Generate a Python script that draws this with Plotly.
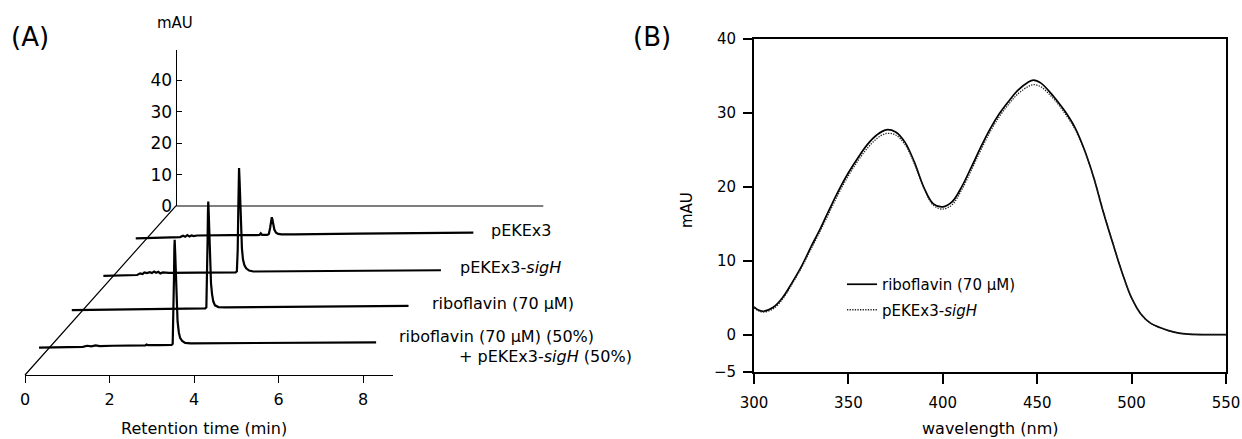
import plotly.graph_objects as go

W, H = 1242, 439
FONT = "DejaVu Sans"

# ---------------- Panel A data: chromatograms (time in min, signal in mAU) ----------------
names_a = ["pEKEx3", "pEKEx3-<i>sigH</i>", "riboflavin (70 µM)", "riboflavin (70 µM) (50%)"]
depths_a = [0.805, 0.59, 0.375, 0.16]          # position along the depth (3rd) axis, 0=front, 1=back

t_pekex3 = [-0.25, 0.3, 0.8, 0.87, 0.92, 0.97, 1.02, 1.07, 1.12, 1.2, 1.5, 2.0, 2.6, 2.68, 2.71, 2.74,
            2.86, 2.9, 2.93, 2.955, 2.97, 2.985, 3.0, 3.03, 3.07, 3.12, 3.2, 3.5, 5.0, 7.74]
v_pekex3 = [0.2, 0.4, 0.6, 1.0, 0.7, 1.2, 0.8, 1.1, 0.9, 1.1, 1.2, 1.2, 1.25, 1.3, 1.8, 1.3,
            1.3, 1.6, 3.5, 6.0, 6.9, 6.2, 4.8, 3.0, 2.0, 1.6, 1.45, 1.45, 1.7, 2.0]

t_sigh = [-0.25, 0.3, 0.55, 0.62, 0.68, 0.72, 0.78, 0.85, 0.9, 0.95, 1.0, 1.05, 1.1, 1.16, 1.3, 2.0,
          2.88, 2.91, 2.93, 2.945, 2.955, 2.962, 2.975, 2.99, 3.01, 3.03, 3.055, 3.09, 3.13, 3.2, 3.3, 5.0, 7.74]
v_sigh = [-0.2, 0.0, 0.1, 0.6, 0.4, 0.9, 0.7, 1.0, 0.7, 1.2, 0.8, 1.1, 0.6, 0.9, 0.8, 0.85,
          0.9, 1.3, 8.0, 22.0, 31.0, 34.1, 30.0, 22.0, 14.0, 8.5, 5.0, 3.2, 2.2, 1.5, 1.2, 1.35, 1.6]

t_ribo = [-0.23, 1.0, 2.0, 2.93, 2.955, 2.97, 2.983, 2.993, 3.0, 3.012, 3.028, 3.045, 3.065, 3.09,
          3.12, 3.16, 3.24, 3.4, 5.0, 7.74]
v_ribo = [0.5, 0.8, 1.0, 1.05, 1.4, 9.0, 22.0, 32.0, 35.0, 31.0, 23.0, 15.0, 9.0, 5.5,
          3.2, 2.0, 1.45, 1.35, 1.55, 1.8]

t_mix = [-0.24, 0.3, 0.8, 0.9, 1.0, 1.1, 1.2, 1.5, 2.0, 2.28, 2.31, 2.34, 2.6, 2.9, 2.925, 2.94,
         2.955, 2.965, 2.972, 2.985, 3.0, 3.02, 3.04, 3.07, 3.1, 3.15, 3.22, 3.35, 4.5, 6.0, 7.74]
v_mix = [0.1, 0.2, 0.35, 0.7, 0.5, 0.8, 0.6, 0.7, 0.8, 0.85, 1.1, 0.9, 0.9, 0.95, 1.3, 8.0,
         22.0, 32.0, 34.4, 30.0, 22.0, 14.0, 8.5, 5.0, 3.2, 2.2, 1.6, 1.45, 1.55, 1.65, 1.8]

times_a = [t_pekex3, t_sigh, t_ribo, t_mix]
values_a = [v_pekex3, v_sigh, v_ribo, v_mix]

time_ticks = [0, 2, 4, 6, 8]
mau_ticks = [0, 10, 20, 30, 40]
TIME_MAX = 8.7
MAU_MAX = 49.65

# ---------------- Panel B data: UV spectra ----------------
wl_ribo = [300, 302, 305, 310, 315, 320, 325, 330, 335, 340, 345, 350, 355, 360, 365, 370, 375, 380,
           385, 390, 395, 400, 405, 410, 415, 420, 425, 430, 435, 440, 445, 448, 452, 456, 460, 465,
           470, 475, 480, 485, 490, 495, 500, 505, 510, 515, 520, 525, 530, 540, 550]
ab_ribo = [3.8, 3.4, 3.2, 3.7, 5.0, 7.0, 9.2, 11.8, 14.3, 17.0, 19.6, 21.9, 23.9, 25.7, 27.0, 27.7, 27.4, 26.0,
           23.3, 19.9, 17.7, 17.3, 18.0, 20.0, 22.6, 25.3, 27.8, 29.9, 31.6, 33.1, 34.1, 34.4, 34.0, 33.0, 31.8, 30.1,
           28.0, 25.0, 21.2, 16.6, 12.4, 8.4, 5.0, 2.8, 1.6, 1.0, 0.55, 0.25, 0.12, 0.05, 0.05]
wl_sigh = [300, 302, 305, 310, 315, 320, 325, 330, 335, 340, 345, 350, 355, 360, 365, 370, 375, 380,
           385, 390, 395, 400, 405, 410, 415, 420, 425, 430, 435, 440, 445, 448, 452, 456, 460, 465,
           470, 475, 480, 485, 490, 495, 500, 505, 510, 515, 520, 525, 530, 540, 550]
ab_sigh = [3.7, 3.3, 3.1, 3.5, 4.8, 6.8, 9.0, 11.5, 14.0, 16.6, 19.2, 21.5, 23.5, 25.2, 26.5, 27.2, 27.0, 25.7,
           23.1, 19.8, 17.5, 17.0, 17.6, 19.6, 22.2, 24.9, 27.4, 29.5, 31.2, 32.6, 33.5, 33.8, 33.5, 32.6, 31.5, 29.8,
           27.8, 24.9, 21.2, 16.7, 12.5, 8.4, 5.0, 2.8, 1.6, 1.0, 0.55, 0.25, 0.12, 0.05, 0.05]
wl_ticks = [300, 350, 400, 450, 500, 550]
mau_ticks_b = [-5, 0, 10, 20, 30, 40]

# ---------------- pixel geometry of panel A (oblique projection) ----------------
PX_PER_MIN = 42.25
PX_PER_MAU = 3.1425
ORIGIN_X, ORIGIN_Y = 25.0, 375.0          # front origin (pixels)
BACK_DX_PX, BACK_DY_PX = 150.7, 169.0     # shift of the back plane
DX = BACK_DX_PX / PX_PER_MIN              # in minutes
DY = BACK_DY_PX / PX_PER_MAU              # in mAU


def fx(px):
    return px / W


def fy(py):
    return 1 - py / H


def project(ts, vs, d):
    return [t + DX * d for t in ts], [v + DY * d for v in vs]


X_MIN, X_MAX = -0.3, 14.5
Y_MIN = -3.0
Y_TOP_PX = 30.0
Y_MAX = (ORIGIN_Y - Y_TOP_PX) / PX_PER_MAU
xdom = [fx(ORIGIN_X + X_MIN * PX_PER_MIN), fx(ORIGIN_X + X_MAX * PX_PER_MIN)]
ydom = [fy(ORIGIN_Y - Y_MIN * PX_PER_MAU), fy(Y_TOP_PX)]

fig = go.Figure()

# frame of panel A: diagonal depth axis and back baseline
fig.add_trace(go.Scatter(x=[0, DX, DX + TIME_MAX], y=[0, DY, DY], mode="lines",
                         line=dict(color="black", width=1.2), showlegend=False,
                         hoverinfo="skip", xaxis="x", yaxis="y"))

ends = []
for name, ts, vs, d in zip(names_a, times_a, values_a, depths_a):
    X, Y = project(ts, vs, d)
    ends.append((X[-1], Y[-1]))
    fig.add_trace(go.Scatter(x=X, y=Y, mode="lines", line=dict(color="black", width=2.2),
                             name=name, showlegend=False, xaxis="x", yaxis="y"))

# dummy traces so that the front time axis and back mAU axis are drawn
fig.add_trace(go.Scatter(x=[0, TIME_MAX], y=[None, None], xaxis="x2", yaxis="y",
                         showlegend=False, hoverinfo="skip"))
fig.add_trace(go.Scatter(x=[None, None], y=[0, MAU_MAX], xaxis="x", yaxis="y2",
                         showlegend=False, hoverinfo="skip"))

# panel B
fig.add_trace(go.Scatter(x=wl_ribo, y=ab_ribo, mode="lines", name="riboflavin (70 µM)",
                         line=dict(color="black", width=1.7, shape="spline", smoothing=1.0),
                         xaxis="x3", yaxis="y3", legendgroup="a"))
fig.add_trace(go.Scatter(x=wl_sigh, y=ab_sigh, mode="lines", name="pEKEx3-<i>sigH</i>",
                         line=dict(color="#222222", width=1.3, dash="1.3px,1.3px", shape="spline",
                                   smoothing=1.0),
                         xaxis="x3", yaxis="y3", legendgroup="b"))

tickfont = dict(family=FONT, size=15, color="black")
axis_common = dict(showgrid=False, zeroline=False, automargin=False)

layout = dict(
    width=W, height=H, margin=dict(l=0, r=0, t=0, b=0),
    paper_bgcolor="white", plot_bgcolor="rgba(0,0,0,0)",
    font=dict(family=FONT, size=16, color="black"),
    showlegend=True,
    xaxis=dict(domain=xdom, range=[X_MIN, X_MAX], visible=False, anchor="y", **axis_common),
    yaxis=dict(domain=ydom, range=[Y_MIN, Y_MAX], visible=False, anchor="x", **axis_common),
    xaxis2=dict(domain=[fx(ORIGIN_X), fx(ORIGIN_X + TIME_MAX * PX_PER_MIN)], range=[0, TIME_MAX],
                anchor="free", position=fy(ORIGIN_Y), showline=True, linecolor="black", linewidth=1.3,
                ticks="outside", ticklen=7, tickwidth=1.3, tickcolor="black", tickvals=time_ticks,
                tickfont=dict(family=FONT, size=16), ticklabelstandoff=3, **axis_common),
    yaxis2=dict(domain=[fy(ORIGIN_Y - BACK_DY_PX), fy(ORIGIN_Y - BACK_DY_PX - MAU_MAX * PX_PER_MAU)],
                range=[0, MAU_MAX], anchor="free", position=fx(ORIGIN_X + BACK_DX_PX), side="left",
                showline=True, linecolor="black", linewidth=1.3, ticks="inside", ticklen=5,
                tickwidth=1.3, tickcolor="black", tickvals=mau_ticks, tickfont=dict(family=FONT, size=17),
                **axis_common),
    xaxis3=dict(domain=[fx(754), fx(1226)], range=[300, 550], anchor="y3", showline=True, mirror=True,
                linecolor="black", linewidth=1.7, ticks="outside", ticklen=10, tickwidth=1.5,
                tickcolor="black", tickvals=wl_ticks, tickfont=tickfont, ticklabelstandoff=6, **axis_common),
    yaxis3=dict(domain=[fy(372), fy(38.7)], range=[-5, 40], anchor="x3", showline=True, mirror=True,
                linecolor="black", linewidth=1.7, ticks="outside", ticklen=9, tickwidth=1.5,
                tickcolor="black", tickvals=mau_ticks_b, tickfont=tickfont, ticklabelstandoff=4,
                **axis_common),
    legend=dict(x=fx(842), y=fy(268), xanchor="left", yanchor="top", bgcolor="rgba(0,0,0,0)",
                font=dict(family=FONT, size=15), tracegroupgap=3, itemclick=False),
)
fig.update_layout(**layout)

ann = []
# trace labels for panel A, placed just right of each trace end
label_shift = [16, 17, 21, 21]
for (xe, ye), name, sh in zip(ends, names_a, label_shift):
    ys = 6 if name.endswith("(50%)") else 2.5
    ann.append(dict(x=xe, y=ye, xref="x", yref="y", text=name, showarrow=False, xanchor="left",
                    yanchor="middle", xshift=sh, yshift=ys))
xe, ye = ends[3]
ann.append(dict(x=xe, y=ye, xref="x", yref="y", text="+ pEKEx3-<i>sigH</i> (50%)", showarrow=False,
                xanchor="left", yanchor="middle", xshift=81, yshift=-14.5))

ann += [
    dict(x=fx(175), y=fy(22.7), xref="paper", yref="paper", text="mAU", showarrow=False,
         xanchor="center", yanchor="middle", font=dict(size=15)),
    dict(x=fx(204), y=fy(428.5), xref="paper", yref="paper", text="Retention time (min)", showarrow=False,
         xanchor="center", yanchor="middle"),
    dict(x=fx(990), y=fy(428.5), xref="paper", yref="paper", text="wavelength (nm)", showarrow=False,
         xanchor="center", yanchor="middle"),
    dict(x=fx(687), y=fy(210), xref="paper", yref="paper", text="mAU", showarrow=False, textangle=-90,
         xanchor="center", yanchor="middle", font=dict(size=15)),
    dict(x=fx(9), y=fy(37), xref="paper", yref="paper", text="(A)", showarrow=False,
         xanchor="left", yanchor="middle", font=dict(size=26)),
    dict(x=fx(631), y=fy(37), xref="paper", yref="paper", text="(B)", showarrow=False,
         xanchor="left", yanchor="middle", font=dict(size=26)),
]
fig.update_layout(annotations=ann)

fig.write_html("out.html")
